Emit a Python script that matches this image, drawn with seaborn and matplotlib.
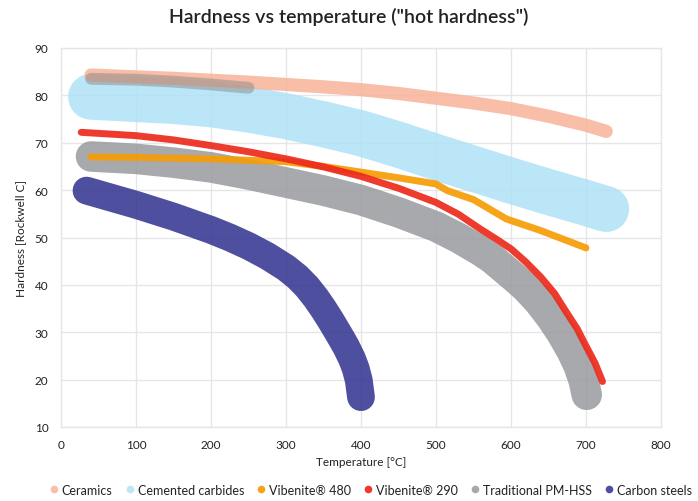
import matplotlib
matplotlib.use("Agg")
import matplotlib.pyplot as plt
from matplotlib.lines import Line2D
import seaborn as sns
import pandas as pd

# ---- data ----
series_names = ["Ceramics", "Cemented carbides", "Vibenite® 480", "Vibenite® 290",
                "Traditional PM-HSS", "Carbon steels"]

ceramics_x = [40, 100, 150, 200, 250, 300, 350, 400, 450, 500, 550, 600, 650, 700, 727]
ceramics_y = [84.3, 83.9, 83.6, 83.2, 82.8, 82.3, 81.8, 81.2, 80.4, 79.4, 78.4, 77.2,
              75.6, 73.7, 72.4]

carbides_x = [40, 100, 150, 200, 250, 300, 350, 400, 450, 500, 550, 600, 650, 700, 727]
carbides_y = [79.7, 79.2, 78.8, 78.1, 77.0, 75.6, 73.9, 72.0, 69.6, 67.0, 64.5, 62.0,
              59.6, 57.3, 56.0]

v480_x = [40, 100, 200, 300, 350, 400, 450, 500, 515, 550, 594, 639, 700]
v480_y = [67.0, 66.9, 66.6, 66.0, 65.0, 63.8, 62.6, 61.3, 59.9, 58.0, 53.9, 51.5, 47.8]

v290_x = [27, 100, 150, 200, 250, 300, 350, 400, 450, 500, 530, 559, 580, 600, 620,
          640, 658, 674, 688, 699, 712, 722]
v290_y = [72.2, 71.5, 70.6, 69.4, 68.1, 66.6, 64.9, 62.9, 60.4, 57.4, 54.9, 51.8,
          49.7, 47.6, 44.8, 41.6, 38.2, 34.2, 30.8, 27.4, 23.5, 19.6]

hss_x = [40, 100, 150, 200, 250, 300, 350, 400, 450, 500, 530, 559, 575, 590, 605,
         620, 637, 653, 667, 681, 690, 697, 701]
hss_y = [67.1, 66.6, 65.8, 64.8, 63.3, 61.6, 59.9, 57.9, 55.3, 52.3, 49.9, 47.2, 45.5,
         43.5, 41.5, 39.4, 36.5, 33.2, 29.9, 26.0, 23.0, 19.8, 16.8]

hss_upper_x = [40, 100, 150, 200, 250]
hss_upper_y = [83.5, 83.3, 82.9, 82.3, 81.6]

carbon_x = [34, 100, 150, 200, 225, 250, 275, 300, 315, 328, 340, 350, 360, 372, 380,
            388, 393, 397, 400]
carbon_y = [59.9, 56.9, 54.4, 51.6, 50.0, 48.2, 46.1, 43.6, 41.7, 39.6, 37.2, 34.9,
            32.4, 29.2, 27.0, 24.4, 22.3, 19.9, 16.3]

x_ticks = [0, 100, 200, 300, 400, 500, 600, 700, 800]
y_ticks = [10, 20, 30, 40, 50, 60, 70, 80, 90]

# ---- style ----
colors = {
    "Ceramics": "#F7B399",
    "Cemented carbides": "#AEE2F7",
    "Vibenite® 480": "#F69C05",
    "Vibenite® 290": "#EC2A1C",
    "Traditional PM-HSS": "#989A9E",
    "Carbon steels": "#30308E",
}
legend_colors = {
    "Ceramics": "#F9BFA8",
    "Cemented carbides": "#BAE6F8",
    "Vibenite® 480": "#F7A31A",
    "Vibenite® 290": "#EE3A2C",
    "Traditional PM-HSS": "#A7A8AC",
    "Carbon steels": "#4F4F9F",
}
widths = {
    "Ceramics": 9.5,
    "Cemented carbides": 33,
    "Vibenite® 480": 5,
    "Vibenite® 290": 5,
    "Traditional PM-HSS": 22,
    "Carbon steels": 20,
}
alphas = {
    "Ceramics": 0.85,
    "Cemented carbides": 0.85,
    "Vibenite® 480": 0.92,
    "Vibenite® 290": 0.92,
    "Traditional PM-HSS": 0.85,
    "Carbon steels": 0.85,
}

data = {
    "Ceramics": (ceramics_x, ceramics_y),
    "Cemented carbides": (carbides_x, carbides_y),
    "Vibenite® 480": (v480_x, v480_y),
    "Vibenite® 290": (v290_x, v290_y),
    "Traditional PM-HSS": (hss_x, hss_y),
    "Carbon steels": (carbon_x, carbon_y),
}

sns.set_theme(style="white")
plt.rcParams["font.family"] = ["Lato", "DejaVu Sans"]

fig = plt.figure(figsize=(6.98, 5.02), dpi=100)
ax = fig.add_axes([61 / 698, 1 - 428 / 502, 600 / 698, 379 / 502])

draw_order = ["Cemented carbides", "Ceramics", "Traditional PM-HSS", "Carbon steels",
              "Vibenite® 480", "Vibenite® 290"]
for name in draw_order:
    xs, ys = data[name]
    df = pd.DataFrame({"Temperature": xs, "Hardness": ys})
    sns.lineplot(data=df, x="Temperature", y="Hardness", ax=ax, color=colors[name],
                 linewidth=widths[name], alpha=alphas[name], sort=False,
                 solid_capstyle="round", solid_joinstyle="round", legend=False)
    if name == "Traditional PM-HSS":
        df2 = pd.DataFrame({"Temperature": hss_upper_x, "Hardness": hss_upper_y})
        sns.lineplot(data=df2, x="Temperature", y="Hardness", ax=ax, color="#8E8A88",
                     linewidth=8.5, alpha=0.5, sort=False,
                     solid_capstyle="round", solid_joinstyle="round", legend=False)

ax.set_xlim(0, 800)
ax.set_ylim(10, 90)
ax.set_xticks(x_ticks)
ax.set_yticks(y_ticks)
ax.grid(True, color="#E6E6E6", linewidth=1)
ax.set_axisbelow(True)
for s in ax.spines.values():
    s.set_color("#E6E6E6")
    s.set_linewidth(1)
ax.tick_params(axis="both", length=0, labelsize=8.5, colors="#222222", pad=9)
ax.set_xlabel("Temperature [°C]", fontsize=8.5, color="#222222", labelpad=4)
ax.set_ylabel("Hardness [Rockwell C]", fontsize=8.5, color="#222222", labelpad=6)

fig.suptitle('Hardness vs temperature ("hot hardness")', x=0.5, y=0.985,
             fontsize=14, color="#222222", fontweight="semibold")

handles = [Line2D([0], [0], marker="o", linestyle="none", markersize=5.5,
                  markerfacecolor=legend_colors[n], markeredgecolor="none")
           for n in series_names]
fig.legend(handles, series_names, loc="lower center", bbox_to_anchor=(0.53, -0.012),
           ncol=6, frameon=False, fontsize=9, handletextpad=0.1, columnspacing=0.9,
           labelcolor="#222222", handlelength=1.0)

fig.savefig("out.png", dpi=100)
